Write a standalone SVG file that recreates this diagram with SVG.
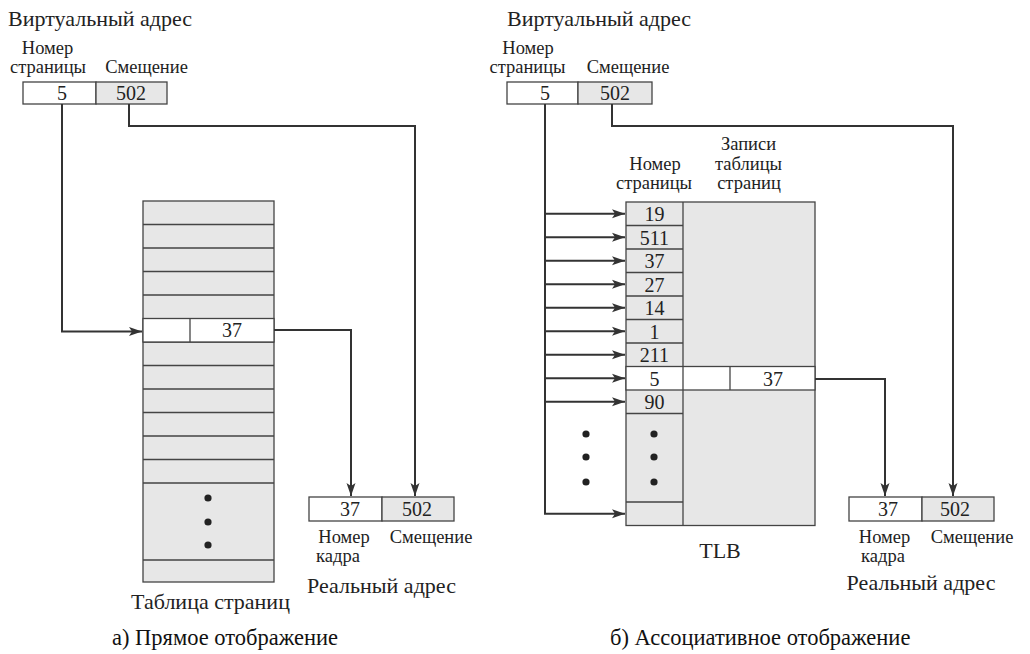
<svg xmlns="http://www.w3.org/2000/svg" width="1030" height="654" viewBox="0 0 1030 654">
<style>
.bg{fill:#fff}
.w{fill:#fff;stroke:#444;stroke-width:1.3}
.g{fill:#e7e7e7;stroke:#444;stroke-width:1.3}
.ln{stroke:#444;stroke-width:1.3;fill:none}
.conn{fill:none;stroke:#333;stroke-width:2}
.t{font-family:"Liberation Serif","Times New Roman",serif;fill:#222}
.big{font-size:22px}
.lbl{font-size:18.5px;text-anchor:middle}
.num{font-size:20px;text-anchor:middle}
.cap{font-family:"Liberation Serif","Times New Roman",serif;font-size:22.5px;fill:#111}
.dot{fill:#222}
</style>
<defs>
<marker id="arr" markerUnits="userSpaceOnUse" markerWidth="14" markerHeight="10" refX="13" refY="5" orient="auto">
<path d="M0,0.5 L13,5 L0,9.5 L3,5 z" fill="#333"/>
</marker>
</defs>
<rect class="bg" x="0" y="0" width="1030" height="654"/>

<!-- ===== Left: direct mapping ===== -->
<g id="left-virtual-address">
<text class="t big" x="8" y="26">Виртуальный адрес</text>
<text class="t lbl" x="47.5" y="54">Номер</text>
<text class="t lbl" x="48" y="73">страницы</text>
<text class="t lbl" x="146.5" y="73">Смещение</text>
<rect class="w" x="23" y="82" width="73" height="22"/>
<rect class="g" x="96" y="82" width="71" height="22"/>
<text class="t num" x="62" y="100">5</text>
<text class="t num" x="131" y="100">502</text>
</g>

<g id="page-table">
<rect class="g" x="143" y="201" width="131" height="381"/>
<path class="ln" d="M143,224.5H274M143,248H274M143,271.5H274M143,295H274M143,342H274M143,365.5H274M143,389H274M143,412.5H274M143,436H274M143,459.5H274M143,483H274M143,560H274"/>
<rect class="w" x="143" y="318.5" width="131" height="23.5"/>
<line class="ln" x1="190" y1="318.5" x2="190" y2="342"/>
<text class="t num" x="232" y="337">37</text>
<circle class="dot" cx="208" cy="498" r="3.6"/>
<circle class="dot" cx="208" cy="522" r="3.6"/>
<circle class="dot" cx="208" cy="545" r="3.6"/>
<text class="t big" x="210.5" y="609" text-anchor="middle">Таблица страниц</text>
</g>

<g id="left-real-address">
<rect class="w" x="309" y="497" width="73" height="24"/>
<rect class="g" x="382" y="497" width="72" height="24"/>
<text class="t num" x="350" y="516">37</text>
<text class="t num" x="417" y="516">502</text>
<text class="t lbl" x="344" y="543">Номер</text>
<text class="t lbl" x="338" y="562">кадра</text>
<text class="t lbl" x="431" y="543">Смещение</text>
<text class="t big" x="381.5" y="593" text-anchor="middle">Реальный адрес</text>
</g>

<!-- ===== Right: associative mapping ===== -->
<g id="right-virtual-address">
<text class="t big" x="507" y="26">Виртуальный адрес</text>
<text class="t lbl" x="528" y="54">Номер</text>
<text class="t lbl" x="527.5" y="73">страницы</text>
<text class="t lbl" x="628" y="73">Смещение</text>
<rect class="w" x="507" y="82" width="71" height="22"/>
<rect class="g" x="578" y="82" width="74" height="22"/>
<text class="t num" x="545" y="100">5</text>
<text class="t num" x="615" y="100">502</text>
</g>

<g id="tlb">
<text class="t lbl" x="748.5" y="150">Записи</text>
<text class="t lbl" x="748.5" y="170">таблицы</text>
<text class="t lbl" x="749" y="189">страниц</text>
<text class="t lbl" x="655" y="170">Номер</text>
<text class="t lbl" x="654" y="189">страницы</text>
<rect class="g" x="626" y="202" width="189" height="323.5"/>
<line class="ln" x1="683" y1="202" x2="683" y2="525.5"/>
<path class="ln" d="M626,225.5H683M626,249H683M626,272.5H683M626,296H683M626,319.5H683M626,343H683M626,413.5H683M626,502H683"/>
<rect class="w" x="626" y="366.5" width="189" height="23.5"/>
<line class="ln" x1="683" y1="366.5" x2="683" y2="390"/>
<line class="ln" x1="730" y1="366.5" x2="730" y2="390"/>
<text class="t num" x="654.5" y="221">19</text>
<text class="t num" x="654.5" y="244.5">511</text>
<text class="t num" x="654.5" y="268">37</text>
<text class="t num" x="654.5" y="291.5">27</text>
<text class="t num" x="654.5" y="315">14</text>
<text class="t num" x="654.5" y="338.5">1</text>
<text class="t num" x="654.5" y="362">211</text>
<text class="t num" x="654.5" y="385.5">5</text>
<text class="t num" x="773" y="385.5">37</text>
<text class="t num" x="654.5" y="409">90</text>
<circle class="dot" cx="654" cy="434" r="3.6"/>
<circle class="dot" cx="654" cy="457" r="3.6"/>
<circle class="dot" cx="654" cy="482" r="3.6"/>
<text class="t big" x="720" y="558" text-anchor="middle">TLB</text>
</g>

<g id="right-real-address">
<rect class="w" x="849" y="497" width="73" height="24"/>
<rect class="g" x="922" y="497" width="72" height="24"/>
<text class="t num" x="888" y="516">37</text>
<text class="t num" x="955" y="516">502</text>
<text class="t lbl" x="884.5" y="543">Номер</text>
<text class="t lbl" x="883" y="562">кадра</text>
<text class="t lbl" x="972" y="543">Смещение</text>
<text class="t big" x="921" y="590" text-anchor="middle">Реальный адрес</text>
</g>

<g id="connectors">
<path class="conn" d="M62,104V331.5H142" marker-end="url(#arr)"/>
<path class="conn" d="M129,104V126H415V496" marker-end="url(#arr)"/>
<path class="conn" d="M274,330H351V496" marker-end="url(#arr)"/>
<path class="conn" d="M545,104V513.7H625" marker-end="url(#arr)"/>
<path class="conn" d="M545,213.7H625" marker-end="url(#arr)"/>
<path class="conn" d="M545,237.2H625" marker-end="url(#arr)"/>
<path class="conn" d="M545,260.7H625" marker-end="url(#arr)"/>
<path class="conn" d="M545,284.2H625" marker-end="url(#arr)"/>
<path class="conn" d="M545,307.7H625" marker-end="url(#arr)"/>
<path class="conn" d="M545,331.2H625" marker-end="url(#arr)"/>
<path class="conn" d="M545,354.7H625" marker-end="url(#arr)"/>
<path class="conn" d="M545,378.2H625" marker-end="url(#arr)"/>
<path class="conn" d="M545,401.7H625" marker-end="url(#arr)"/>
<path class="conn" d="M612,104V126H953V496" marker-end="url(#arr)"/>
<path class="conn" d="M815,379H885V496" marker-end="url(#arr)"/>
<circle class="dot" cx="586" cy="434" r="3.6"/>
<circle class="dot" cx="586" cy="457" r="3.6"/>
<circle class="dot" cx="586" cy="482" r="3.6"/>
</g>

<g id="captions">
<text class="cap" x="112" y="645">а) Прямое отображение</text>
<text class="cap" x="610" y="645">б) Ассоциативное отображение</text>
</g>
</svg>
